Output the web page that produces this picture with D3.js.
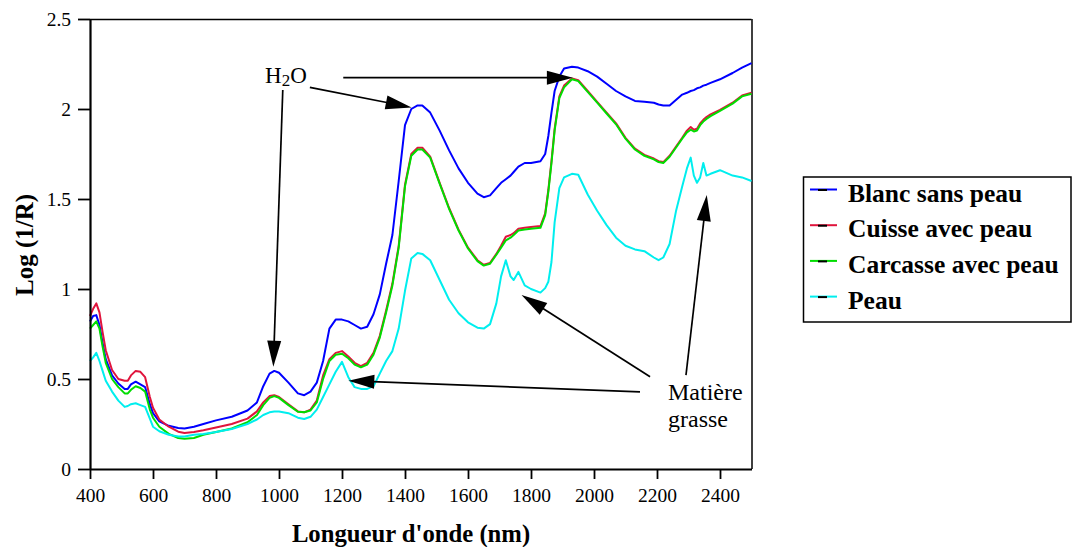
<!DOCTYPE html>
<html>
<head>
<meta charset="utf-8">
<script src="https://cdn.jsdelivr.net/npm/d3@7"></script>
<style>
  html, body { margin: 0; padding: 0; background: #fff; }
  svg { display: block; }
  text { font-family: "Liberation Serif", "DejaVu Serif", serif; fill: #000; }
</style>
</head>
<body>
<svg id="chart" width="1072" height="547"></svg>
<script>
// ---------- DATA ----------
const wavelengths = [400,410,420,430,440,450,470,490,510,520,530,545,560,575,590,600,620,650,680,700,730,760,800,850,900,930,950,970,985,1000,1030,1060,1080,1100,1120,1140,1160,1180,1200,1220,1240,1260,1280,1300,1320,1340,1360,1380,1400,1420,1440,1455,1480,1510,1540,1570,1600,1630,1650,1670,1690,1705,1720,1735,1745,1760,1780,1800,1830,1845,1855,1865,1875,1890,1905,1930,1950,1980,2010,2040,2070,2100,2130,2160,2190,2205,2220,2240,2260,2280,2295,2307,2317,2327,2337,2347,2357,2370,2400,2440,2470,2500];

const blancSansPeau = [0.82,0.85,0.855,0.80,0.70,0.61,0.52,0.475,0.445,0.445,0.47,0.485,0.47,0.455,0.36,0.31,0.265,0.24,0.228,0.225,0.235,0.25,0.27,0.29,0.325,0.37,0.46,0.53,0.545,0.535,0.48,0.42,0.41,0.43,0.48,0.60,0.78,0.83,0.83,0.82,0.80,0.78,0.79,0.86,0.97,1.14,1.30,1.60,1.91,2.00,2.02,2.02,1.98,1.88,1.77,1.67,1.59,1.53,1.51,1.52,1.56,1.59,1.61,1.63,1.65,1.68,1.70,1.70,1.71,1.75,1.85,1.98,2.10,2.18,2.225,2.235,2.23,2.21,2.18,2.14,2.10,2.07,2.045,2.04,2.035,2.025,2.02,2.02,2.05,2.08,2.09,2.10,2.105,2.115,2.12,2.13,2.135,2.145,2.165,2.20,2.23,2.255];

const cuisseAvecPeau = [0.85,0.89,0.92,0.87,0.76,0.66,0.55,0.50,0.49,0.49,0.52,0.545,0.54,0.51,0.40,0.34,0.275,0.235,0.207,0.20,0.205,0.215,0.23,0.25,0.28,0.32,0.37,0.405,0.41,0.40,0.36,0.32,0.315,0.33,0.38,0.52,0.61,0.645,0.655,0.625,0.59,0.572,0.59,0.645,0.74,0.88,1.03,1.24,1.58,1.75,1.785,1.785,1.735,1.59,1.45,1.33,1.23,1.16,1.135,1.145,1.195,1.24,1.29,1.30,1.31,1.335,1.34,1.345,1.35,1.42,1.55,1.71,1.89,2.07,2.13,2.17,2.16,2.10,2.04,1.98,1.92,1.84,1.78,1.745,1.725,1.71,1.705,1.74,1.79,1.84,1.88,1.90,1.885,1.89,1.92,1.94,1.955,1.97,1.995,2.035,2.075,2.09];

const carcasseAvecPeau = [0.78,0.80,0.82,0.78,0.68,0.59,0.50,0.455,0.42,0.42,0.44,0.46,0.45,0.43,0.33,0.285,0.235,0.195,0.172,0.168,0.172,0.19,0.205,0.225,0.26,0.30,0.355,0.395,0.405,0.395,0.355,0.318,0.315,0.325,0.37,0.50,0.60,0.635,0.64,0.615,0.58,0.565,0.58,0.635,0.73,0.87,1.02,1.23,1.57,1.74,1.775,1.775,1.73,1.585,1.445,1.325,1.225,1.155,1.13,1.14,1.19,1.23,1.27,1.285,1.30,1.325,1.33,1.335,1.34,1.41,1.54,1.70,1.88,2.06,2.12,2.165,2.155,2.095,2.035,1.975,1.915,1.835,1.775,1.74,1.72,1.705,1.70,1.735,1.785,1.835,1.87,1.885,1.875,1.88,1.91,1.93,1.945,1.96,1.99,2.03,2.07,2.085];

const peau = [0.60,0.62,0.645,0.60,0.545,0.49,0.43,0.38,0.345,0.35,0.36,0.365,0.355,0.345,0.28,0.235,0.21,0.19,0.18,0.18,0.19,0.195,0.205,0.222,0.25,0.275,0.30,0.315,0.32,0.32,0.31,0.285,0.278,0.29,0.33,0.40,0.47,0.54,0.595,0.51,0.455,0.445,0.445,0.46,0.53,0.60,0.655,0.78,0.99,1.17,1.20,1.195,1.16,1.05,0.94,0.865,0.815,0.785,0.78,0.805,0.92,1.07,1.16,1.07,1.05,1.095,1.02,1.00,0.98,1.005,1.04,1.15,1.37,1.56,1.62,1.64,1.635,1.525,1.435,1.355,1.285,1.24,1.22,1.21,1.175,1.16,1.175,1.25,1.43,1.57,1.67,1.73,1.63,1.59,1.62,1.70,1.63,1.64,1.66,1.63,1.62,1.60];

const seriesNames = ["Blanc sans peau", "Cuisse avec peau", "Carcasse avec peau", "Peau"];
const seriesValues = [blancSansPeau, cuisseAvecPeau, carcasseAvecPeau, peau];
const seriesColors = ["#0000ff", "#e0143c", "#00dd00", "#00eeee"];

const xTicks = [400,600,800,1000,1200,1400,1600,1800,2000,2200,2400];
const yTicks = [0,0.5,1,1.5,2,2.5];

// annotations in data units: [nm, value]
const arrows = [
  [[1012, 2.106], [982, 0.568]],
  [[1098, 2.12], [1421, 2.009]],
  [[1204, 2.174], [1933, 2.174]],
  [[2146, 0.429], [1220, 0.49]],
  [[2178, 0.513], [1770, 0.967]],
  [[2292, 0.522], [2358, 1.522]]
];

// ---------- LAYOUT ----------
const svg = d3.select("#chart");
const mLeft = 90, mRight = 751.5, mTop = 19, mBottom = 469;
const x = d3.scaleLinear().domain([400, 2500]).range([mLeft, mRight]);
const y = d3.scaleLinear().domain([0, 2.5]).range([mBottom, mTop]);

svg.append("rect").attr("width", 1072).attr("height", 547).attr("fill", "#fff");

// frame (top & right thin)
svg.append("line").attr("x1", mLeft).attr("x2", mRight).attr("y1", mTop + 0.5).attr("y2", mTop + 0.5)
  .attr("stroke", "#000").attr("stroke-width", 1.3);
svg.append("line").attr("x1", mRight + 0.5).attr("x2", mRight + 0.5).attr("y1", mTop).attr("y2", mBottom)
  .attr("stroke", "#000").attr("stroke-width", 1.5);

// series lines
const line = d3.line().x((d, i) => x(wavelengths[i])).y(d => y(d)).curve(d3.curveLinear);
seriesValues.forEach((vals, k) => {
  svg.append("path").datum(vals).attr("d", line)
    .attr("fill", "none").attr("stroke", seriesColors[k]).attr("stroke-width", 2)
    .attr("stroke-linejoin", "round");
});

// axes
const xAxis = d3.axisBottom(x).tickValues(xTicks).tickSize(10).tickSizeOuter(0).tickPadding(9)
  .tickFormat(d => String(d));
const gx = svg.append("g").attr("transform", `translate(0,${mBottom})`).call(xAxis);
gx.select(".domain").attr("stroke-width", 2.2);
gx.selectAll(".tick line").attr("stroke-width", 1.8);
gx.selectAll("text").style("font-family", '"Liberation Serif", serif').style("font-size", "19.5px").attr("fill", "#000");

const yAxis = d3.axisLeft(y).tickValues(yTicks).tickSize(12).tickSizeOuter(0).tickPadding(7)
  .tickFormat(d => String(d));
const gy = svg.append("g").attr("transform", `translate(${mLeft},0)`).call(yAxis);
gy.select(".domain").attr("stroke-width", 2.2);
gy.selectAll(".tick line").attr("stroke-width", 1.8);
gy.selectAll("text").style("font-family", '"Liberation Serif", serif').style("font-size", "19.5px").attr("fill", "#000");

// axis titles
svg.append("text").attr("x", 411).attr("y", 542).attr("text-anchor", "middle")
  .style("font-size", "24.7px").style("font-weight", "bold").text("Longueur d'onde (nm)");
svg.append("text").attr("transform", "translate(33,245) rotate(-90)").attr("text-anchor", "middle")
  .style("font-size", "25px").style("font-weight", "bold").text("Log (1/R)");

// annotation arrows
const ann = svg.append("g");
arrows.forEach(([s, t]) => {
  const x1 = x(s[0]), y1 = y(s[1]), x2 = x(t[0]), y2 = y(t[1]);
  const dx = x2 - x1, dy = y2 - y1, L = Math.hypot(dx, dy);
  const ux = dx / L, uy = dy / L;
  const hl = 26, hw = 7;
  const bx = x2 - ux * hl, by = y2 - uy * hl;
  ann.append("line").attr("x1", x1).attr("y1", y1).attr("x2", bx + ux * 2).attr("y2", by + uy * 2)
    .attr("stroke", "#000").attr("stroke-width", 1.7);
  ann.append("polygon")
    .attr("points", [[x2, y2], [bx - uy * hw, by + ux * hw], [bx + uy * hw, by - ux * hw]].map(p => p.join(",")).join(" "))
    .attr("fill", "#000");
});

// annotation texts
const h2o = svg.append("text").attr("x", x(1022)).attr("y", y(2.144)).attr("text-anchor", "middle")
  .style("font-size", "23px");
h2o.append("tspan").text("H");
h2o.append("tspan").attr("dy", 3).style("font-size", "17px").text("2");
h2o.append("tspan").attr("dy", -3).text("O");

svg.append("text").attr("x", x(2235)).attr("y", y(0.383)).style("font-size", "24px").text("Matière");
svg.append("text").attr("x", x(2235)).attr("y", y(0.235)).style("font-size", "24px").text("grasse");

// legend
const lg = svg.append("g");
lg.append("rect").attr("x", 803.5).attr("y", 177).attr("width", 267.5).attr("height", 145)
  .attr("fill", "none").attr("stroke", "#000").attr("stroke-width", 1.5);
seriesNames.forEach((name, i) => {
  const cy = 189.5 + i * 35.7;
  lg.append("line").attr("x1", 810).attr("x2", 837).attr("y1", cy).attr("y2", cy)
    .attr("stroke", seriesColors[i]).attr("stroke-width", 2);
  lg.append("line").attr("x1", 818).attr("x2", 827).attr("y1", cy + 0.5).attr("y2", cy + 0.5)
    .attr("stroke", "#000").attr("stroke-width", 2);
  lg.append("text").attr("x", 848).attr("y", cy + 12).style("font-size", "25.5px").style("font-weight", "bold").text(name);
});
</script>
</body>
</html>
